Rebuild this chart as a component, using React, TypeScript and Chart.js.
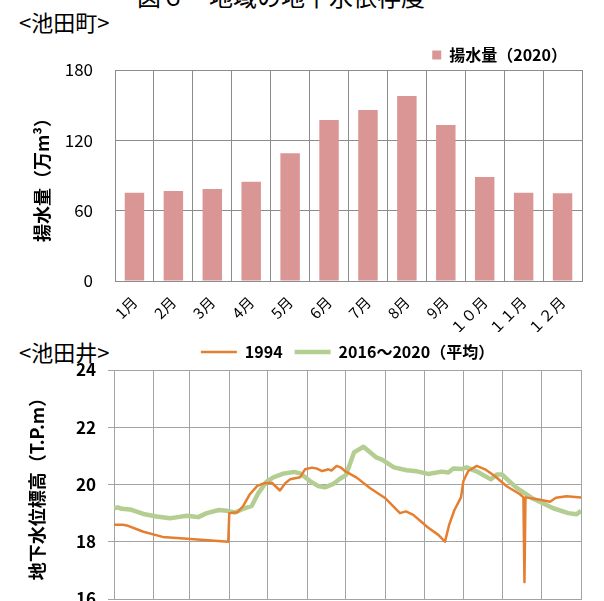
import React, { useEffect, useRef } from "react";
import { Chart, registerables } from "chart.js";

Chart.register(...registerables);

const FONT = "'Noto Sans CJK JP', 'Noto Sans', sans-serif";

// ---- Bar chart data (池田町) ----
const months = ["1月", "2月", "3月", "4月", "5月", "6月", "7月", "8月", "9月", "１０月", "１１月", "１２月"];
const pumping2020 = [75.3, 76.8, 78.5, 84.7, 108.9, 137.3, 145.8, 157.8, 133.0, 88.7, 75.3, 74.8];
const barYTicks = { min: 0, max: 180, step: 60 };

// ---- Line chart data (池田井) ----
const monthBoundaries = [0, 31, 59, 90, 120, 151, 181, 212, 243, 273, 304, 334, 365];
const lineYTicks = { min: 16, max: 24, step: 2 };

const days1994 = [0, 7, 10, 23, 38, 60, 89.3, 90.1, 96.5, 101, 106, 112, 117, 123.3, 129.7, 134, 137.6, 145.4, 149.3, 154.8, 159, 162.6, 165, 167.5, 170, 174, 177, 180.5, 189.7, 200, 211.8, 223.5, 228.2, 233.9, 245.4, 253.5, 258.7, 262, 266, 271.2, 273.1, 276.9, 283.5, 290, 297.8, 306.9, 317.3, 320, 320.8, 321.6, 333, 340.8, 345.4, 353.8, 365];
const level1994 = [18.59, 18.59, 18.57, 18.35, 18.17, 18.1, 18.0, 19.0, 19.03, 19.25, 19.65, 19.95, 20.04, 20.06, 19.79, 20.05, 20.18, 20.25, 20.53, 20.59, 20.55, 20.47, 20.5, 20.53, 20.49, 20.65, 20.6, 20.47, 20.24, 19.88, 19.53, 19.0, 19.06, 18.94, 18.5, 18.24, 18.0, 18.6, 19.1, 19.55, 20.12, 20.47, 20.65, 20.53, 20.29, 19.94, 19.66, 19.55, 16.59, 19.55, 19.47, 19.4, 19.54, 19.59, 19.55];

const daysAvg = [0, 3, 6, 12.5, 22.9, 33.4, 43.8, 50, 56.8, 62, 65.9, 72.5, 82, 88.3, 94.6, 101.6, 107.6, 112.8, 119.3, 124.5, 132.3, 140.7, 145.4, 153.2, 159.4, 164.9, 171.4, 176.6, 181.3, 187.6, 195, 204.8, 209.5, 218.8, 228.8, 236.8, 245.6, 256.1, 261.3, 265.2, 271.7, 275.6, 284.7, 294.6, 299.1, 303.2, 314.7, 327.7, 343.3, 355, 361.6, 365];
const levelAvg = [19.17, 19.2, 19.15, 19.13, 18.97, 18.88, 18.82, 18.86, 18.91, 18.88, 18.86, 19.0, 19.11, 19.08, 19.02, 19.16, 19.25, 19.7, 20.1, 20.25, 20.38, 20.44, 20.39, 20.12, 19.95, 19.9, 20.02, 20.2, 20.33, 21.12, 21.32, 20.95, 20.87, 20.6, 20.5, 20.46, 20.37, 20.45, 20.42, 20.56, 20.54, 20.6, 20.43, 20.18, 20.35, 20.35, 19.88, 19.5, 19.17, 19.0, 18.96, 19.08];

const BAR_COLOR = "#D99694";
const ORANGE = "#E67E30";
const GREEN = "#B4CE92";
const GRID_BAR = "#8C8C8C";
const GRID_LINE = "#A3A3A3";

// nudges the bar chart legend a few pixels down, closer to the plot
const legendNudge = {
  id: "legendNudge",
  afterLayout(chart: any, _args: any, opts: any) {
    if (chart.legend && opts && opts.dy) {
      chart.legend.top += opts.dy;
      chart.legend.bottom += opts.dy;
    }
  },
};

export default function App() {
  const barRef = useRef<HTMLCanvasElement | null>(null);
  const lineRef = useRef<HTMLCanvasElement | null>(null);

  useEffect(() => {
    if (!barRef.current || !lineRef.current) return;

    const barChart = new Chart(barRef.current, {
      type: "bar",
      data: {
        labels: months,
        datasets: [
          {
            label: "揚水量（2020）",
            data: pumping2020,
            backgroundColor: BAR_COLOR,
            barPercentage: 0.5,
            categoryPercentage: 1,
          },
        ],
      },
      plugins: [legendNudge],
      options: {
        animation: false,
        responsive: false,
        layout: { padding: { top: 29, right: 22, left: 0, bottom: 0 } },
        plugins: {
          legendNudge: { dy: 3 },
          legend: {
            position: "top",
            align: "end",
            fullSize: false,
            labels: {
              boxWidth: 9,
              boxHeight: 9,
              padding: 15,
              color: "#000",
              font: { family: FONT, size: 16, weight: "bold" },
            },
          },
          tooltip: { enabled: false },
        },
        scales: {
          x: {
            grid: { color: GRID_BAR, drawTicks: false, offset: true },
            border: { color: GRID_BAR },
            ticks: {
              color: "#000",
              font: { family: FONT, size: 15 },
              maxRotation: 45,
              minRotation: 45,
              padding: 12,
              autoSkip: false,
            },
            afterFit: (s: any) => {
              s.height = 51;
            },
          },
          y: {
            min: barYTicks.min,
            max: barYTicks.max,
            ticks: {
              stepSize: barYTicks.step,
              color: "#000",
              padding: 22,
              font: { family: FONT, size: 17 },
            },
            grid: { color: GRID_BAR, drawTicks: false },
            border: { color: GRID_BAR },
            title: {
              display: true,
              text: "揚水量（万m³）",
              color: "#000",
              font: { family: FONT, size: 18, weight: "bold" },
              padding: { top: 31, bottom: 0 },
            },
            afterFit: (s: any) => {
              s.width = 115;
            },
          },
        },
      },
    } as any);

    const lineChart = new Chart(lineRef.current, {
      type: "line",
      data: {
        datasets: [
          {
            label: "1994",
            data: days1994.map((d, i) => ({ x: d, y: level1994[i] })),
            borderColor: ORANGE,
            backgroundColor: ORANGE,
            borderWidth: 2.5,
            pointRadius: 0,
            tension: 0,
            borderJoinStyle: "round",
          },
          {
            label: "2016〜2020（平均）",
            data: daysAvg.map((d, i) => ({ x: d, y: levelAvg[i] })),
            borderColor: GREEN,
            backgroundColor: GREEN,
            borderWidth: 4.5,
            pointRadius: 0,
            tension: 0,
            borderJoinStyle: "round",
          },
        ],
      },
      options: {
        animation: false,
        responsive: false,
        layout: { padding: { top: 0, right: 23, left: 0, bottom: 0 } },
        plugins: {
          legend: {
            position: "top",
            align: "center",
            fullSize: false,
            labels: {
              usePointStyle: true,
              pointStyle: "line",
              pointStyleWidth: 36,
              padding: 12,
              color: "#000",
              font: { family: FONT, size: 16, weight: "bold" },
            },
          },
          tooltip: { enabled: false },
        },
        scales: {
          x: {
            type: "linear",
            min: monthBoundaries[0],
            max: monthBoundaries[monthBoundaries.length - 1],
            afterBuildTicks: (s: any) => {
              s.ticks = monthBoundaries.map((v) => ({ value: v }));
            },
            ticks: { display: false },
            grid: { color: GRID_LINE, drawTicks: false },
            border: { color: GRID_LINE },
            afterFit: (s: any) => {
              s.height = 43;
            },
          },
          y: {
            min: lineYTicks.min,
            max: lineYTicks.max,
            ticks: {
              stepSize: lineYTicks.step,
              color: "#000",
              padding: 12,
              font: { family: FONT, size: 17, weight: "bold" },
            },
            grid: { color: GRID_LINE, tickLength: 6 },
            border: { color: GRID_LINE },
            title: {
              display: true,
              text: "地下水位標高（T.P.m）",
              color: "#000",
              font: { family: FONT, size: 18, weight: "bold" },
              padding: { top: 26, bottom: 0 },
            },
            afterFit: (s: any) => {
              s.width = 114;
            },
          },
        },
      },
    } as any);

    return () => {
      barChart.destroy();
      lineChart.destroy();
    };
  }, []);

  const textBase: React.CSSProperties = {
    position: "absolute",
    fontFamily: FONT,
    lineHeight: "1",
    whiteSpace: "nowrap",
    color: "#000",
  };

  return (
    <div
      style={{
        position: "fixed",
        left: 0,
        top: 0,
        width: 604,
        height: 601,
        overflow: "hidden",
        background: "#fff",
      }}
    >
      <div style={{ ...textBase, left: 137, top: -16, fontSize: 24 }}>図６　地域の地下水依存度</div>
      <div style={{ ...textBase, left: 19, top: 10, fontSize: 22 }}>&lt;池田町&gt;</div>
      <div style={{ ...textBase, left: 19, top: 340, fontSize: 22 }}>&lt;池田井&gt;</div>
      <canvas
        ref={barRef}
        width={604}
        height={332}
        style={{ position: "absolute", left: 0, top: 0, width: 604, height: 332 }}
      />
      <canvas
        ref={lineRef}
        width={604}
        height={310}
        style={{ position: "absolute", left: 0, top: 332, width: 604, height: 310 }}
      />
    </div>
  );
}
